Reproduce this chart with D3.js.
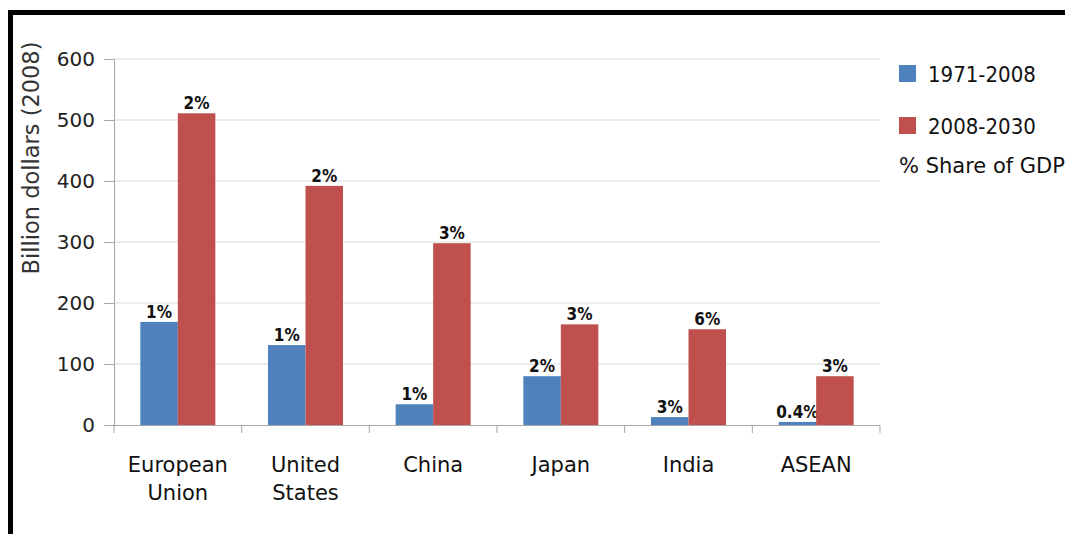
<!DOCTYPE html>
<html><head><meta charset="utf-8">
<script src="https://cdn.jsdelivr.net/npm/d3@7"></script>
<style>body{margin:0;background:#fff;} svg{display:block;}</style>
</head><body>
<script>
const categories = [["European","Union"],["United","States"],["China"],["Japan"],["India"],["ASEAN"]];
const seriesNames = ["1971-2008","2008-2030"];
const values1971 = [169, 131, 34, 80, 13, 5];
const values2008 = [511, 392, 298, 165, 157, 80];
const share1971 = ["1%","1%","1%","2%","3%","0.4%"];
const share2008 = ["2%","2%","3%","3%","6%","3%"];
const yTicks = [0,100,200,300,400,500,600];
const colors = ["#4f81bd","#c0504d"];

const W=1065,H=534;
const fontN = "'DejaVu Sans',sans-serif";
const fontC = "'DejaVu Sans Condensed','DejaVu Sans',sans-serif";
const svg = d3.select("body").append("svg").attr("width",W).attr("height",H)
  .style("font-family",fontN);

// frame
svg.append("rect").attr("x",8).attr("y",10).attr("width",W).attr("height",5).attr("fill","#000");
svg.append("rect").attr("x",8).attr("y",10).attr("width",5).attr("height",H).attr("fill","#000");

const x0 = d3.scaleBand().domain(d3.range(categories.length)).range([114,880]);
const y = d3.scaleLinear().domain([0,600]).range([425,59]);
const barW = 37.5;

// gridlines
svg.append("g").selectAll("line").data(yTicks.filter(d=>d>0)).join("line")
  .attr("x1",114).attr("x2",880).attr("y1",d=>y(d)).attr("y2",d=>y(d))
  .attr("stroke","#d9d9d9").attr("stroke-width",1);

// y axis
const yAxis = svg.append("g").attr("transform","translate(114,0)")
  .call(d3.axisLeft(y).tickValues(yTicks).tickSize(10).tickPadding(9));
yAxis.select(".domain").attr("stroke","#a6a6a6");
yAxis.selectAll(".tick line").attr("stroke","#a6a6a6");
yAxis.selectAll("text").attr("font-size",20).attr("fill","#222").style("font-family",fontN);

// x axis line and ticks
svg.append("line").attr("x1",114).attr("x2",880).attr("y1",425.5).attr("y2",425.5).attr("stroke","#a6a6a6");
svg.append("g").selectAll("line").data(d3.range(categories.length+1)).join("line")
  .attr("x1",d=>d<categories.length? x0(d): 880).attr("x2",d=>d<categories.length? x0(d): 880)
  .attr("y1",425).attr("y2",433).attr("stroke","#a6a6a6");

// bars
const groups = svg.append("g").selectAll("g").data(categories.map((c,i)=>i)).join("g");
groups.each(function(i){
  const g = d3.select(this);
  const cx = x0(i)+x0.bandwidth()/2;
  const vals=[values1971[i],values2008[i]];
  const labs=[share1971[i],share2008[i]];
  vals.forEach((v,k)=>{
    const bx = cx - barW + k*barW;
    g.append("rect").attr("x",bx).attr("y",y(v)).attr("width",barW).attr("height",y(0)-y(v)).attr("fill",colors[k]);
    g.append("text").attr("x",bx+barW/2).attr("y",y(v)-4).attr("text-anchor","middle")
      .style("font-family",fontC).style("font-stretch","condensed")
      .attr("font-size",17).attr("font-weight","bold").attr("fill","#111").text(labs[k]);
  });
  const t = g.append("text").attr("text-anchor","middle").attr("font-size",21).attr("fill","#111");
  categories[i].forEach((line,li)=>{
    t.append("tspan").attr("x",cx).attr("y",472+li*28).text(line);
  });
});

// y title
svg.append("text").attr("transform","translate(39,158) rotate(-90)").attr("text-anchor","middle")
  .attr("font-size",22.5).attr("fill","#333").text("Billion dollars (2008)");

// legend
seriesNames.forEach((s,k)=>{
  svg.append("rect").attr("x",899).attr("y",65+k*52).attr("width",17).attr("height",17).attr("fill",colors[k]);
  svg.append("text").attr("x",928).attr("y",82+k*52).attr("font-size",22)
    .style("font-family",fontC).style("font-stretch","condensed").attr("fill","#111").text(s);
});
svg.append("text").attr("x",899).attr("y",173).attr("font-size",21).attr("fill","#111").text("% Share of GDP");
</script>
</body></html>
